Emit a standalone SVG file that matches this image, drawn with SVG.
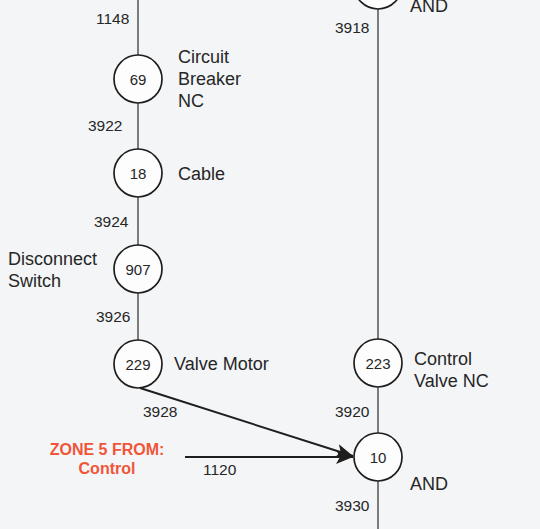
<svg xmlns="http://www.w3.org/2000/svg" width="540" height="529" viewBox="0 0 540 529">
<defs>
<style>
.bg{fill:#f3f5f7}
.n{fill:#fdfdfd;stroke:#1e1e1e;stroke-width:1.7}
.e{stroke:#3a3a3a;stroke-width:1.3;fill:none}
.a{stroke:#1e1e1e;stroke-width:1.9;fill:none}
.t{font-family:"Liberation Sans",Arial,sans-serif;font-size:18px;fill:#262626}
.s{font-family:"Liberation Sans",Arial,sans-serif;font-size:15.5px;fill:#262626}
.c{font-family:"Liberation Sans",Arial,sans-serif;font-size:15px;fill:#262626;text-anchor:middle}
.z{font-family:"Liberation Sans",Arial,sans-serif;font-size:16px;font-weight:bold;fill:#f0553a;text-anchor:middle}
</style>
<marker id="ah" viewBox="0 0 17 14" refX="17" refY="7" markerWidth="17" markerHeight="14" markerUnits="userSpaceOnUse" orient="auto">
<path d="M0,0 L17,7 L0,14 L4,7 z" fill="#1e1e1e"/>
</marker>
</defs>
<rect class="bg" x="0" y="0" width="540" height="529"/>
<g id="connectors">
<line class="e" x1="138" y1="0" x2="138" y2="55"/>
<line class="e" x1="138" y1="102" x2="138" y2="150"/>
<line class="e" x1="138" y1="197" x2="138" y2="245"/>
<line class="e" x1="138" y1="293" x2="138" y2="340"/>
<line class="e" x1="378" y1="9" x2="378" y2="339"/>
<line class="e" x1="378" y1="387" x2="378" y2="433"/>
<line class="e" x1="378" y1="481" x2="378" y2="529"/>
<line class="a" x1="140" y1="388" x2="353" y2="456" marker-end="url(#ah)"/>
<line class="a" x1="185" y1="457" x2="353" y2="457" marker-end="url(#ah)"/>
<text class="s" x="96" y="24">1148</text>
<text class="s" x="88" y="131">3922</text>
<text class="s" x="94" y="227">3924</text>
<text class="s" x="96" y="322">3926</text>
<text class="s" x="143" y="417">3928</text>
<text class="s" x="203" y="475">1120</text>
<text class="s" x="335" y="33">3918</text>
<text class="s" x="335" y="417">3920</text>
<text class="s" x="335" y="511">3930</text>
</g>
<g id="node-top">
<circle class="n" cx="378" cy="-15" r="24"/>
<text class="t" x="410" y="12">AND</text>
</g>
<g id="node-69">
<circle class="n" cx="138" cy="79" r="24"/>
<text class="c" x="138" y="85">69</text>
<text class="t" x="178" y="63">Circuit</text>
<text class="t" x="178" y="85">Breaker</text>
<text class="t" x="178" y="107">NC</text>
</g>
<g id="node-18">
<circle class="n" cx="138" cy="173" r="24"/>
<text class="c" x="138" y="179">18</text>
<text class="t" x="178" y="180">Cable</text>
</g>
<g id="node-907">
<circle class="n" cx="138" cy="269" r="24"/>
<text class="c" x="138" y="275">907</text>
<text class="t" x="8" y="265">Disconnect</text>
<text class="t" x="8" y="287">Switch</text>
</g>
<g id="node-229">
<circle class="n" cx="138" cy="364" r="24"/>
<text class="c" x="138" y="370">229</text>
<text class="t" x="174" y="370">Valve Motor</text>
</g>
<g id="node-223">
<circle class="n" cx="378" cy="363" r="24"/>
<text class="c" x="378" y="369">223</text>
<text class="t" x="414" y="365">Control</text>
<text class="t" x="414" y="387">Valve NC</text>
</g>
<g id="node-10">
<circle class="n" cx="378" cy="457" r="24"/>
<text class="c" x="378" y="463">10</text>
<text class="t" x="410" y="490">AND</text>
</g>
<g id="zone5">
<text class="z" x="107" y="455">ZONE 5 FROM:</text>
<text class="z" x="107" y="474">Control</text>
</g>
</svg>
